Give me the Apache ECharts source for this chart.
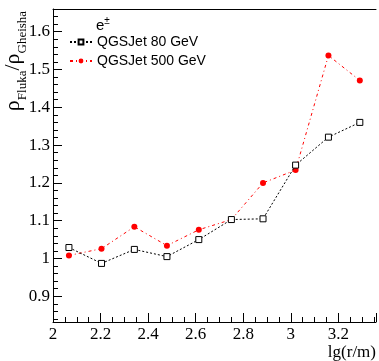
<!DOCTYPE html>
<html><head><meta charset="utf-8">
<script src="https://cdn.jsdelivr.net/npm/echarts@6/dist/echarts.min.js"></script>
<style>html,body{margin:0;padding:0;background:#fff}#c{width:379px;height:361px}</style>
</head><body><div id="c"></div>
<script>
const lgR = [2.067, 2.204, 2.342, 2.479, 2.613, 2.750, 2.883, 3.020, 3.158, 3.290];
const qgs80 = [1.029, 0.987, 1.024, 1.005, 1.050, 1.103, 1.105, 1.247, 1.321, 1.360];
const qgs500 = [1.008, 1.026, 1.084, 1.034, 1.076, 1.103, 1.200, 1.234, 1.537, 1.471];
const yMajor = [0.9, 1.0, 1.1, 1.2, 1.3, 1.4, 1.5, 1.6];
const yMinor = [0.84,0.86,0.88,0.92,0.94,0.96,0.98,1.02,1.04,1.06,1.08,1.12,1.14,1.16,1.18,1.22,1.24,1.26,1.28,1.32,1.34,1.36,1.38,1.42,1.44,1.46,1.48,1.52,1.54,1.56,1.58,1.62,1.64];

const chart = echarts.init(document.getElementById('c'));
const serif = 'Liberation Serif';
const sans = 'Liberation Sans';
chart.setOption({
  animation: false,
  grid: {left: 53, right: 0, top: 9, bottom: 39},
  title: {text: '{e|e}{p|\u00b1}', left: 96, top: 16, padding: 0,
    textStyle: {fontFamily: sans, fontSize: 14, fontWeight: 'normal', color: '#000',
      rich: {e: {fontFamily: sans, fontSize: 15, color: '#000', verticalAlign: 'bottom', lineHeight: 17},
             p: {fontFamily: sans, fontSize: 10, color: '#000', verticalAlign: 'top', lineHeight: 17}}}},
  legend: {
    orient: 'vertical', left: 69, top: 35, padding: 0, itemWidth: 22, itemHeight: 6, itemGap: 5,
    textStyle: {fontFamily: sans, fontSize: 14, color: '#000'},
    data: ['QGSJet 80 GeV', 'QGSJet 500 GeV']
  },
  graphic: [{
    type: 'text', x: 16, y: 61, rotation: Math.PI / 2,
    style: {
      text: '{r|ρ}{s|Fluka}{r|/ρ}{s|Gheisha}',
      align: 'center', verticalAlign: 'middle',
      rich: {
        r: {fontFamily: serif, fontSize: 22, fill: '#000', verticalAlign: 'top', lineHeight: 27},
        s: {fontFamily: serif, fontSize: 13, fill: '#000', verticalAlign: 'bottom', lineHeight: 27}
      }
    }
  }],
  xAxis: [{
    type: 'value', min: 2, max: 3.358, interval: 0.2,
    name: 'lg(r/m)', nameLocation: 'end', nameGap: 0,
    nameTextStyle: {fontFamily: serif, fontSize: 17, color: '#000', align: 'right', verticalAlign: 'top', padding: [22, 0, 0, 0]},
    axisLine: {onZero: false, lineStyle: {color: '#000', width: 1}},
    axisTick: {inside: true, length: 9, lineStyle: {color: '#000'}},
    minorTick: {show: true, splitNumber: 4, length: 5, lineStyle: {color: '#000'}},
    axisLabel: {fontFamily: serif, fontSize: 17, color: '#000', margin: 4, showMaxLabel: false,
      formatter: v => String(Math.round(v * 10) / 10)},
    splitLine: {show: false}
  }, {
    type: 'value', position: 'top', min: 2, max: 3.358,
    axisLine: {show: true, lineStyle: {color: '#000', width: 1}},
    axisTick: {show: false}, axisLabel: {show: false}, splitLine: {show: false}
  }],
  yAxis: [{
    type: 'value', min: 0.832, max: 1.66,
    axisLine: {onZero: false, lineStyle: {color: '#000', width: 1}},
    axisTick: {inside: true, length: 9, customValues: yMajor, lineStyle: {color: '#000'}},
    axisLabel: {fontFamily: serif, fontSize: 17, color: '#000', margin: 3, customValues: yMajor,
      formatter: v => String(Math.round(v * 10) / 10)},
    splitLine: {show: false}
  }, {
    type: 'value', position: 'left', min: 0.832, max: 1.66,
    axisLine: {show: false},
    axisTick: {show: true, inside: true, length: 5, customValues: yMinor, lineStyle: {color: '#000'}},
    axisLabel: {show: false}, splitLine: {show: false}
  }],
  series: [{
    name: 'QGSJet 80 GeV', type: 'line', xAxisIndex: 0, yAxisIndex: 0,
    data: lgR.map((x, i) => [x, qgs80[i]]),
    symbol: 'rect', symbolSize: 6,
    lineStyle: {color: '#000', width: 1, type: [2, 2]},
    itemStyle: {color: '#fff', borderColor: '#000', borderWidth: 1},
    z: 3
  }, {
    name: 'QGSJet 500 GeV', type: 'line', xAxisIndex: 0, yAxisIndex: 0,
    data: lgR.map((x, i) => [x, qgs500[i]]),
    symbol: 'circle', symbolSize: 6,
    lineStyle: {color: '#f00', width: 1, type: [3, 3, 1, 3]},
    itemStyle: {color: '#f00', borderColor: '#f00', borderWidth: 0},
    z: 2
  }]
});
</script></body></html>
